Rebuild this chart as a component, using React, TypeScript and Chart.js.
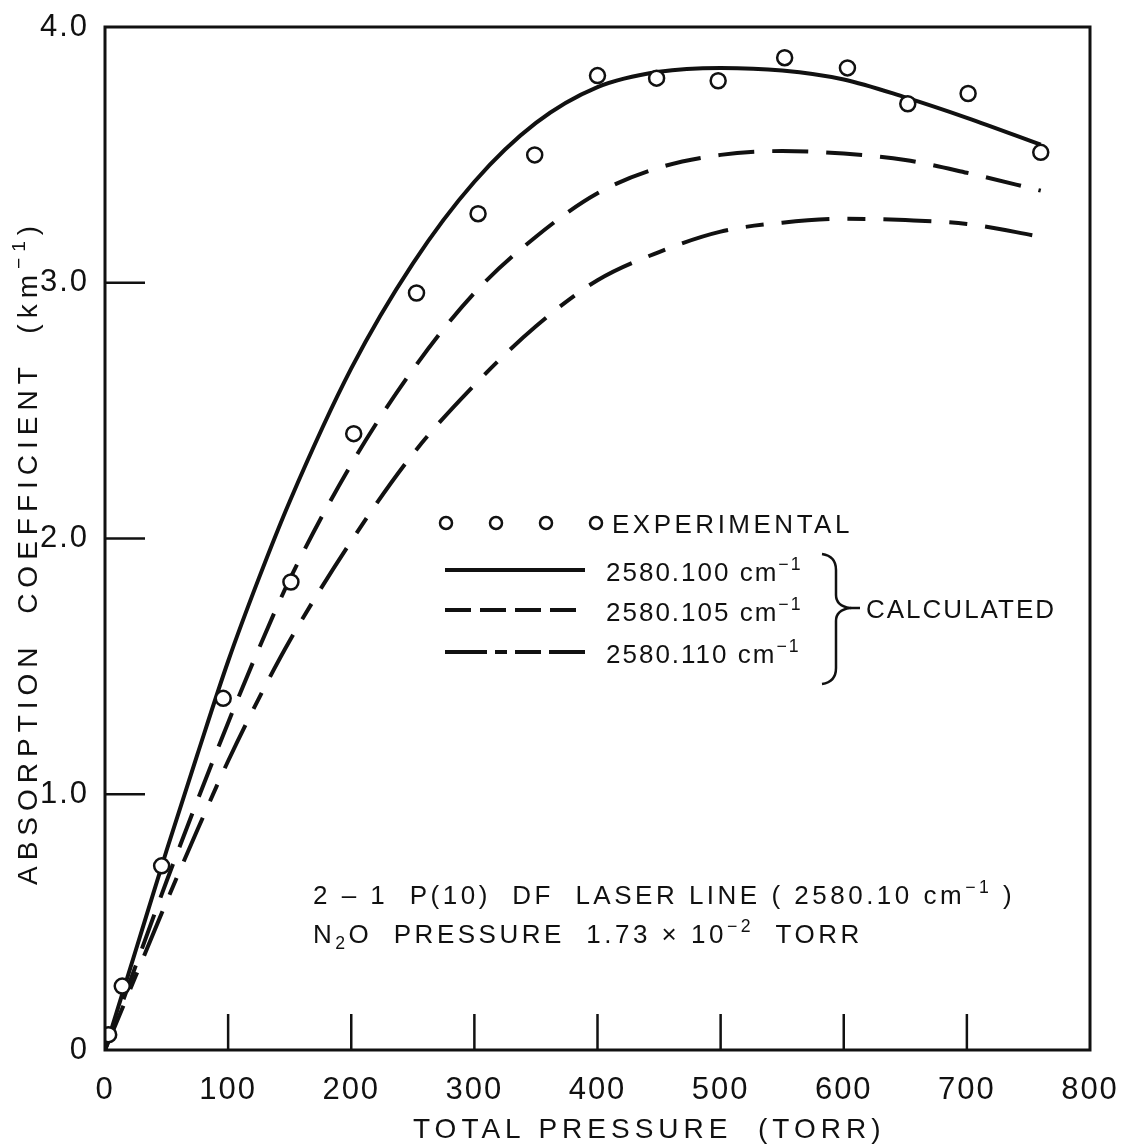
import React, { useEffect, useRef } from 'react';
import { Chart, registerables } from 'chart.js';

Chart.register(...registerables);

// ---------- data ----------
const expPressure = [3, 14, 46, 96, 151, 202, 253, 303, 349, 400, 448, 498, 552, 603, 652, 701, 760];
const expAbsorption = [0.06, 0.25, 0.72, 1.375, 1.83, 2.41, 2.96, 3.27, 3.5, 3.81, 3.8, 3.79, 3.88, 3.84, 3.7, 3.74, 3.51];

const calcPressure = [0, 25, 50, 75, 100, 125, 150, 200, 250, 300, 350, 400, 450, 500, 550, 600, 650, 700, 760];
const calc100 = [0, 0.39, 0.78, 1.155, 1.52, 1.845, 2.145, 2.665, 3.075, 3.395, 3.625, 3.765, 3.825, 3.84, 3.83, 3.795, 3.725, 3.645, 3.54];
const calc105 = [0, 0.33, 0.66, 0.975, 1.28, 1.57, 1.84, 2.29, 2.66, 2.96, 3.18, 3.35, 3.45, 3.5, 3.515, 3.505, 3.48, 3.43, 3.36];
const calc110 = [0, 0.29, 0.58, 0.86, 1.13, 1.375, 1.6, 1.99, 2.33, 2.6, 2.83, 3.01, 3.12, 3.2, 3.235, 3.25, 3.245, 3.23, 3.18];

const xTickValues = [0, 100, 200, 300, 400, 500, 600, 700, 800];
const yTickValues = [0, 1, 2, 3, 4];

const legendLabels = ['2580.100', '2580.105', '2580.110'];

const FONT = '"Liberation Sans", Arial, sans-serif';
const INK = '#111';

type Part = { t: string; s?: 'sup' | 'sub' };

function drawRich(ctx: CanvasRenderingContext2D, x: number, y: number, parts: Part[], size: number) {
  let cx = x;
  for (const p of parts) {
    const s = p.s ? size * 0.68 : size;
    ctx.font = `${s}px ${FONT}`;
    const dy = p.s === 'sup' ? -size * 0.42 : p.s === 'sub' ? size * 0.22 : 0;
    ctx.fillText(p.t, cx, y + dy);
    cx += ctx.measureText(p.t).width;
  }
  return cx;
}

const decorPlugin = {
  id: 'decor',
  beforeDraw(chart: any) {
    const ctx = chart.ctx as any;
    ctx.letterSpacing = '2px';
  },
  afterDraw(chart: any) {
    const ctx = chart.ctx as CanvasRenderingContext2D & { letterSpacing: string };
    const { left, right, top, bottom } = chart.chartArea;
    const xs = chart.scales.x;
    const ys = chart.scales.y;
    ctx.save();
    ctx.strokeStyle = INK;
    ctx.fillStyle = INK;
    ctx.setLineDash([]);
    // frame
    ctx.lineWidth = 3;
    ctx.strokeRect(left, top, right - left, bottom - top);
    // inner ticks
    ctx.lineWidth = 2.5;
    xTickValues.forEach((v) => {
      if (v === 0 || v === 800) return;
      const px = xs.getPixelForValue(v);
      ctx.beginPath();
      ctx.moveTo(px, bottom);
      ctx.lineTo(px, bottom - 36);
      ctx.stroke();
    });
    yTickValues.forEach((v) => {
      if (v === 0 || v === 4) return;
      const py = ys.getPixelForValue(v);
      ctx.beginPath();
      ctx.moveTo(left, py);
      ctx.lineTo(left + 40, py);
      ctx.stroke();
    });

    // axis titles
    ctx.textBaseline = 'alphabetic';
    ctx.textAlign = 'left';
    ctx.letterSpacing = '5px';
    ctx.font = `28px ${FONT}`;
    ctx.fillText('TOTAL PRESSURE  (TORR)', 413, 1138);
    ctx.save();
    ctx.letterSpacing = '6px';
    ctx.translate(37, 885);
    ctx.rotate(-Math.PI / 2);
    const ex = drawRich(ctx, 0, 0, [{ t: 'ABSORPTION  COEFFICIENT  (km' }, { t: '−1', s: 'sup' }], 28);
    ctx.font = `28px ${FONT}`;
    ctx.fillText(')', ex, 0);
    ctx.restore();

    // legend
    const size = 26;
    ctx.lineWidth = 2.5;
    [446, 496, 546, 596].forEach((cx) => {
      ctx.beginPath();
      ctx.arc(cx, 523, 6, 0, Math.PI * 2);
      ctx.stroke();
    });
    ctx.letterSpacing = '3.5px';
    ctx.font = `${size}px ${FONT}`;
    ctx.fillText('EXPERIMENTAL', 612, 533);

    ctx.letterSpacing = '2px';
    const rows = [570, 610, 652];
    const dashes = [[], [26, 9], [42, 8, 12, 8, 26, 8]];
    rows.forEach((y, i) => {
      ctx.lineWidth = 4;
      ctx.setLineDash(dashes[i]);
      ctx.beginPath();
      ctx.moveTo(445, y);
      ctx.lineTo(585, y);
      ctx.stroke();
      ctx.setLineDash([]);
      drawRich(ctx, 606, y + 11, [{ t: legendLabels[i] + ' cm' }, { t: '−1', s: 'sup' }], size);
    });
    // brace
    ctx.lineWidth = 2.5;
    ctx.beginPath();
    ctx.moveTo(822, 554);
    ctx.quadraticCurveTo(836, 556, 836, 570);
    ctx.lineTo(836, 595);
    ctx.quadraticCurveTo(836, 606, 850, 608);
    ctx.quadraticCurveTo(836, 610, 836, 621);
    ctx.lineTo(836, 668);
    ctx.quadraticCurveTo(836, 682, 822, 684);
    ctx.stroke();
    ctx.beginPath();
    ctx.moveTo(850, 608);
    ctx.lineTo(860, 608);
    ctx.stroke();
    ctx.font = `${size}px ${FONT}`;
    ctx.fillText('CALCULATED', 866, 618);

    // annotation
    ctx.letterSpacing = '3.5px';
    drawRich(ctx, 313, 904, [{ t: '2 – 1  P(10)  DF  LASER LINE ( 2580.10 cm' }, { t: '−1', s: 'sup' }, { t: ' )' }], size);
    drawRich(ctx, 313, 943, [{ t: 'N' }, { t: '2', s: 'sub' }, { t: 'O  PRESSURE  1.73 × 10' }, { t: '−2', s: 'sup' }, { t: '  TORR' }], size);
    ctx.restore();
  },
};

function toPts(xs: number[], ys: number[]) {
  return xs.map((x, i) => ({ x, y: ys[i] }));
}

export default function App() {
  const ref = useRef<HTMLCanvasElement | null>(null);
  useEffect(() => {
    if (!ref.current) return;
    const lineBase = {
      type: 'line' as const,
      showLine: true,
      pointRadius: 0,
      borderColor: INK,
      borderWidth: 4,
      fill: false,
      cubicInterpolationMode: 'monotone' as const,
    };
    const chart = new Chart(ref.current, {
      type: 'scatter',
      data: {
        datasets: [
          {
            label: 'EXPERIMENTAL',
            data: toPts(expPressure, expAbsorption),
            pointRadius: 7.5,
            pointBorderWidth: 2.5,
            pointBackgroundColor: '#fff',
            pointBorderColor: INK,
            showLine: false,
          },
          { ...lineBase, label: '2580.100 cm-1', data: toPts(calcPressure, calc100) },
          { ...lineBase, label: '2580.105 cm-1', data: toPts(calcPressure, calc105), borderDash: [36, 18] },
          { ...lineBase, label: '2580.110 cm-1', data: toPts(calcPressure, calc110), borderDash: [48, 18, 18, 18] },
        ] as any,
      },
      options: {
        responsive: false,
        animation: false,
        layout: { padding: { left: 0, right: 31, top: 27, bottom: 0 } },
        plugins: { legend: { display: false }, tooltip: { enabled: false } },
        scales: {
          x: {
            type: 'linear',
            min: 0,
            max: 800,
            afterBuildTicks: (s: any) => {
              s.ticks = xTickValues.map((v) => ({ value: v }));
            },
            afterFit: (s: any) => {
              s.height = 96;
              s.paddingLeft = 0;
              s.paddingRight = 0;
            },
            grid: { display: false },
            border: { display: false },
            ticks: {
              color: INK,
              padding: 14,
              maxRotation: 0,
              autoSkip: false,
              font: { family: FONT, size: 31 },
              callback: (v: any) => String(v),
            },
          },
          y: {
            type: 'linear',
            min: 0,
            max: 4,
            afterBuildTicks: (s: any) => {
              s.ticks = yTickValues.map((v) => ({ value: v }));
            },
            afterFit: (s: any) => {
              s.width = 105;
              s.paddingTop = 0;
              s.paddingBottom = 0;
            },
            grid: { display: false },
            border: { display: false },
            ticks: {
              color: INK,
              padding: 8,
              autoSkip: false,
              font: { family: FONT, size: 31 },
              callback: (v: any) => (Number(v) === 0 ? '0' : Number(v).toFixed(1)),
            },
          },
        },
      },
      plugins: [decorPlugin],
    });
    return () => chart.destroy();
  }, []);
  return (
    <div style={{ position: 'absolute', left: 0, top: 0, width: 1121, height: 1146, background: '#fff' }}>
      <canvas ref={ref} width={1121} height={1146} style={{ width: 1121, height: 1146, display: 'block' }} />
    </div>
  );
}
